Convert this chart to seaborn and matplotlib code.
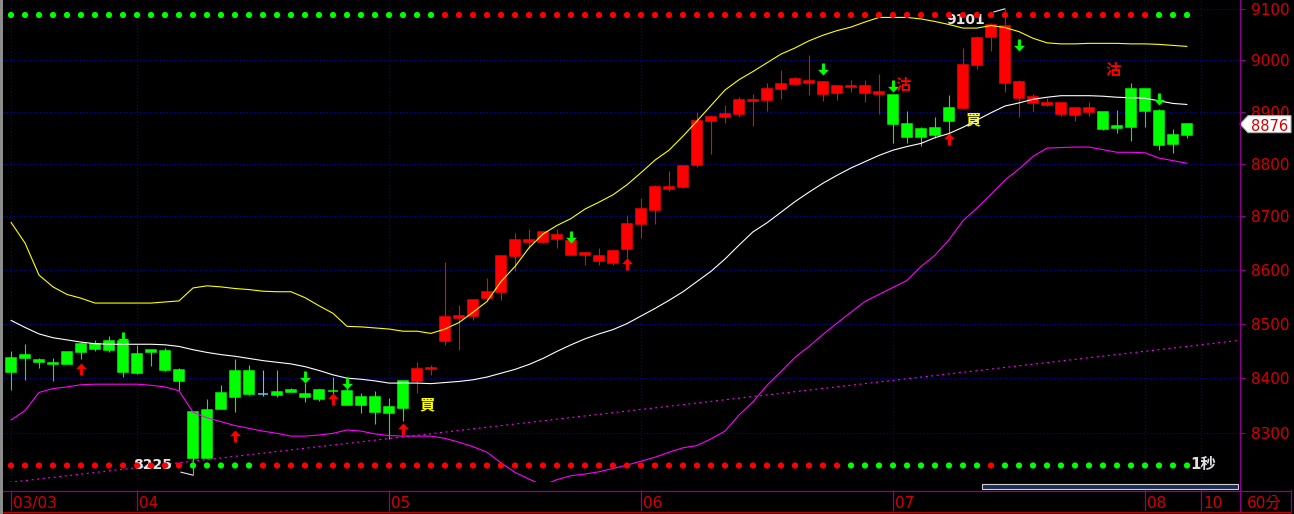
import numpy as np
import pandas as pd
import seaborn as sns
import matplotlib
matplotlib.use("Agg")
import matplotlib.pyplot as plt
from matplotlib.patches import Polygon, Rectangle
from matplotlib.lines import Line2D
from matplotlib.path import Path
from matplotlib.ticker import FixedLocator, NullLocator, FuncFormatter
from matplotlib import transforms

# 60 minute bars, TAIEX futures
open_ = [8437, 8443, 8434, 8428, 8448, 8463, 8463, 8468, 8468, 8444,
         8451, 8450, 8415, 8339, 8342, 8373, 8413, 8413, 8371, 8375,
         8378, 8371, 8379, 8377, 8377, 8366, 8366, 8348, 8395, 8395,
         8416, 8468, 8510, 8514, 8548, 8559, 8626, 8651, 8651, 8657,
         8628, 8627, 8617, 8612, 8638, 8685, 8713, 8752, 8756, 8797,
         8883, 8889, 8895, 8921, 8922, 8944, 8954, 8956, 8934, 8936,
         8948, 8936, 8934, 8932, 8876, 8867, 8869, 8907, 8908, 8991,
         9046, 8956, 8927, 8916, 8913, 8895, 8893, 8900, 8899, 8872,
         8944, 8944, 8902, 8855, 8855]
high = [8450, 8462, 8437, 8437, 8448, 8467, 8469, 8477, 8480, 8461,
        8451, 8456, 8418, 8339, 8362, 8387, 8435, 8424, 8414, 8414,
        8382, 8392, 8380, 8402, 8390, 8373, 8377, 8363, 8395, 8429,
        8424, 8615, 8534, 8544, 8585, 8626, 8669, 8676, 8670, 8677,
        8654, 8634, 8641, 8635, 8702, 8735, 8760, 8786, 8796, 8900,
        8891, 8913, 8928, 8934, 8955, 8981, 8968, 9010, 8960, 8952,
        8962, 8961, 8973, 8932, 8901, 8870, 8890, 8933, 9024, 9048,
        9073, 9101, 8962, 8934, 8927, 8917, 8907, 8919, 8899, 8903,
        8956, 8944, 8906, 8867, 8876]
low = [8378, 8397, 8419, 8394, 8425, 8435, 8450, 8447, 8403, 8408,
       8423, 8413, 8379, 8225, 8256, 8344, 8339, 8370, 8368, 8366,
       8374, 8357, 8359, 8368, 8351, 8337, 8317, 8290, 8322, 8373,
       8405, 8460, 8451, 8506, 8544, 8544, 8598, 8640, 8650, 8641,
       8627, 8609, 8608, 8608, 8602, 8660, 8686, 8749, 8754, 8794,
       8819, 8878, 8889, 8873, 8902, 8924, 8952, 8932, 8920, 8922,
       8939, 8919, 8895, 8840, 8840, 8834, 8850, 8858, 8905, 8983,
       9019, 8938, 8890, 8902, 8911, 8891, 8882, 8891, 8865, 8859,
       8844, 8871, 8826, 8821, 8849]
close = [8412, 8437, 8430, 8425, 8425, 8448, 8453, 8452, 8412, 8410,
         8447, 8415, 8394, 8256, 8256, 8344, 8366, 8372, 8371, 8370,
         8374, 8365, 8362, 8376, 8351, 8351, 8339, 8337, 8346, 8416,
         8418, 8512, 8514, 8544, 8559, 8626, 8655, 8655, 8670, 8665,
         8654, 8631, 8626, 8635, 8685, 8715, 8756, 8756, 8795, 8882,
         8890, 8895, 8922, 8922, 8944, 8954, 8963, 8960, 8958, 8949,
         8950, 8950, 8938, 8876, 8852, 8852, 8856, 8882, 8991, 9044,
         9069, 9067, 8958, 8928, 8916, 8917, 8907, 8907, 8867, 8868,
         8871, 8902, 8836, 8838, 8876]
# candle colour as painted by the software: r = long, g = short, c = flat
bar_state = list("gggggggggg" "gggggggg" "c" "gggggggggg"
                 "rrrrrrrrrr" "rrrrrrrrrr" "rrrrrrrrrr" "rrrr"
                 "ggggg" "rrrrrrrrrr" "ggggggg")

# bollinger bands
bb_upper = [8689, 8650, 8590, 8568, 8554, 8547, 8538, 8538, 8538, 8538,
            8538, 8540, 8542, 8566, 8570, 8568, 8565, 8563, 8560, 8559,
            8559, 8548, 8533, 8519, 8495, 8494, 8492, 8490, 8486, 8486,
            8482, 8490, 8502, 8521, 8541, 8578, 8606, 8641, 8667, 8683,
            8696, 8714, 8727, 8741, 8760, 8783, 8807, 8826, 8853, 8882,
            8912, 8942, 8962, 8978, 8995, 9012, 9024, 9038, 9049, 9058,
            9065, 9075, 9084, 9084, 9084, 9081, 9076, 9070, 9063, 9063,
            9068, 9064, 9056, 9043, 9034, 9032, 9032, 9033, 9033, 9033,
            9032, 9032, 9031, 9029, 9027]
bb_mid = [8506, 8493, 8481, 8474, 8470, 8466, 8463, 8462, 8462, 8462,
          8462, 8461, 8458, 8452, 8447, 8443, 8440, 8436, 8432, 8429,
          8426, 8421, 8414, 8406, 8400, 8398, 8395, 8391, 8391, 8391,
          8390, 8392, 8394, 8397, 8402, 8409, 8416, 8425, 8436, 8449,
          8461, 8472, 8481, 8489, 8500, 8514, 8528, 8543, 8559, 8578,
          8597, 8620, 8646, 8671, 8688, 8708, 8728, 8746, 8763, 8778,
          8792, 8804, 8816, 8826, 8833, 8839, 8850, 8858, 8870, 8884,
          8898, 8911, 8917, 8924, 8928, 8931, 8931, 8931, 8930, 8928,
          8927, 8926, 8921, 8916, 8914]
bb_lower = [8324, 8341, 8374, 8381, 8384, 8388, 8389, 8389, 8389, 8389,
            8387, 8384, 8377, 8338, 8328, 8321, 8314, 8309, 8304, 8300,
            8295, 8295, 8297, 8300, 8306, 8304, 8299, 8296, 8295, 8295,
            8295, 8291, 8284, 8276, 8266, 8247, 8230, 8218, 8207, 8217,
            8224, 8227, 8231, 8237, 8243, 8250, 8257, 8266, 8274, 8278,
            8290, 8304, 8333, 8357, 8387, 8412, 8438, 8458, 8480, 8501,
            8521, 8541, 8554, 8567, 8580, 8606, 8627, 8656, 8692, 8716,
            8742, 8769, 8790, 8814, 8830, 8831, 8832, 8832, 8827, 8822,
            8822, 8821, 8811, 8806, 8801]

# trend line (bar index, price) end points
trend_idx = [-0.5, 87.7]
trend_px = [8211, 8469]

# signal rows (top / bottom dots)
top_dots = list("gggggggggg" "gggggggggg" "gggggggggg" "g"
                "rrrrrrrrrr" "rrrrrrrrrr" "rrrrrrrrrr" "rrrrrrrrrr" "rrrrrrrrrr" "r"
                "ggg")
bot_dots = list("rrrrrrrrrr" "rrr" "ggggg"
                "rrrrrrrrrr" "rrrrrrrrrr" "rrrrrrrrrr" "rrrrrrrrrr" "rr"
                "gggggggggg" "r" "gggggggggg" "gggg")

# arrows and buy/sell marks
up_arrow_idx = [5, 16, 23, 28, 44, 67]
up_arrow_px = [8417, 8296, 8362, 8308, 8610, 8848]
dn_arrow_idx = [8, 21, 24, 40, 58, 63, 72, 82]
dn_arrow_px = [8473, 8402, 8391, 8662, 8982, 8950, 9029, 8925]
buy_idx = [29, 68]
buy_px = [8352, 8885]
sell_idx = [63, 78]
sell_px = [8951, 8979]

date_pos = [0, 9, 27, 45, 63, 81, 85]
date_lab = ["03/03", "04", "05", "06", "07", "08", "10"]
price_ticks = [8300, 8400, 8500, 8600, 8700, 8800, 8900, 9000, 9100]

RED = "#FF0000"
GREEN = "#00FF00"
CYAN = "#55CCEE"
PURPLE = "#900090"
AXRED = "#D40000"
GRID = "#0000C8"

sns.set_theme(style="dark", rc={"axes.facecolor": "black", "figure.facecolor": "black"})
plt.rcParams['font.family'] = ['DejaVu Sans', 'Noto Sans CJK TC']

W, H = 1294, 514
fig = plt.figure(figsize=(W / 100, H / 100), dpi=100)


def fx(x):
    return x / W


def fy(y):
    return 1 - y / H


ax = fig.add_axes([fx(3), fy(482), fx(1239) - fx(3), 482 / H])
ax.set_facecolor("black")

idx = np.arange(len(close))
df = pd.DataFrame({"i": idx, "open": open_, "high": high, "low": low, "close": close,
                   "state": bar_state, "up": bb_upper, "mid": bb_mid, "dn": bb_lower})
cmap = {"r": RED, "g": GREEN, "c": CYAN}
cols = df["state"].map(cmap).tolist()

# candles
ax.vlines(df["i"], df["low"], df["high"], colors=cols, lw=0.8, zorder=2)
top = np.maximum(df["open"], df["close"])
bot = np.minimum(df["open"], df["close"])
ax.bar(df["i"], top - bot, bottom=bot, width=0.75, color=cols, edgecolor=cols,
       linewidth=1.1, zorder=3)

# bands
sns.lineplot(data=df, x="i", y="up", color="#FFFF00", lw=0.8, ax=ax, zorder=4)
sns.lineplot(data=df, x="i", y="mid", color="#FFFFFF", lw=0.8, ax=ax, zorder=4)
sns.lineplot(data=df, x="i", y="dn", color="#FF00FF", lw=0.8, ax=ax, zorder=4)
ax.plot(trend_idx, trend_px, color="#FF00FF", lw=0.8, linestyle=(0, (1.8, 3.2)), zorder=4)

# arrows
up_path = Path([(-0.24, -1), (0.24, -1), (0.24, 0.05), (0.9, 0.05), (0, 1),
                (-0.9, 0.05), (-0.24, 0.05), (-0.24, -1)], closed=True)
dn_path = Path([(x, -y) for x, y in up_path.vertices], closed=True)
ax.scatter(up_arrow_idx, up_arrow_px, marker=up_path, s=75, color=RED, linewidths=0, zorder=5)
ax.scatter(dn_arrow_idx, dn_arrow_px, marker=dn_path, s=75, color=GREEN, linewidths=0, zorder=5)

for i, p in zip(buy_idx, buy_px):
    ax.text(i + 0.2, p, "買", color="#FFFF00", fontsize=11, fontweight="bold",
            ha="left", va="center", zorder=5)
for i, p in zip(sell_idx, sell_px):
    ax.text(i + 0.2, p, "沽", color=RED, fontsize=11, fontweight="bold",
            ha="left", va="center", zorder=5)

# high / low marks
i_hi = int(np.argmax(high))
i_lo = int(np.argmin(low))
ax.annotate(f"{high[i_hi]}", xy=(i_hi, high[i_hi]), xytext=(-20, -11), textcoords="offset pixels",
            ha="right", va="center", color="#E6E6E6", fontsize=10, fontweight="bold", zorder=5,
            arrowprops=dict(arrowstyle="-", color="#E6E6E6", lw=0.8, shrinkA=4, shrinkB=0))
ax.annotate(f"{low[i_lo]}", xy=(i_lo, low[i_lo]), xytext=(-21, 10), textcoords="offset pixels",
            ha="right", va="center", color="#E6E6E6", fontsize=10, fontweight="bold", zorder=5,
            arrowprops=dict(arrowstyle="-", color="#E6E6E6", lw=0.8, shrinkA=4, shrinkB=0))

# signal dots
blend = transforms.blended_transform_factory(ax.transData, ax.transAxes)
ax.scatter(idx, np.full(len(idx), 1 - 15 / 482), transform=blend, s=20, linewidths=0,
           c=[cmap[c] for c in top_dots], zorder=6, clip_on=False)
ax.scatter(idx, np.full(len(idx), 1 - 465.5 / 482), transform=blend, s=20, linewidths=0,
           c=[cmap[c] for c in bot_dots], zorder=6, clip_on=False)

# axes
ax.set_yscale("log")
ax.set_xlim(-8 / 14, (1239 - 11) / 14)
ax.set_ylim(8212.8, 9118.4)
ax.yaxis.set_major_locator(FixedLocator(price_ticks))
ax.yaxis.set_minor_locator(NullLocator())
ax.yaxis.set_major_formatter(FuncFormatter(lambda v, _: f"{v:.0f}"))
ax.yaxis.tick_right()
ax.tick_params(axis="y", which="major", direction="out", length=4.3, width=0.8,
               color=PURPLE, labelcolor=AXRED, labelsize=11, pad=4.3,
               right=True, left=False, labelright=True, labelleft=False)
ax.set_xticks(date_pos)
ax.tick_params(axis="x", length=0, labelbottom=False)
ax.grid(True, which="major", color=GRID, linestyle=(0, (1, 2)), linewidth=0.8)
ax.set_xlabel("")
ax.set_ylabel("")
for s in ax.spines.values():
    s.set_visible(False)

# time axis strip
ax_t = fig.add_axes([fx(3), fy(511), fx(1239) - fx(3), 21 / H])
ax_t.set_facecolor("black")
ax_t.set_xlim(ax.get_xlim())
ax_t.set_ylim(0, 1)
ax_t.axis("off")
ax_t.vlines(date_pos, 0, 1, colors=PURPLE, lw=0.9)
for p, lab in zip(date_pos, date_lab):
    ax_t.text(p + 0.15, 0.36, lab, color=AXRED, fontsize=11, ha="left", va="center")

# frame lines
fig.add_artist(Rectangle((0, 0), fx(3), 1, transform=fig.transFigure, color="#8C8C8C", lw=0))
fig.add_artist(Line2D([fx(1239.5)] * 2, [fy(0), fy(511)], color=PURPLE, lw=0.9))
fig.add_artist(Line2D([fx(3), fx(1291)], [fy(490.5)] * 2, color=PURPLE, lw=0.9))
fig.add_artist(Line2D([fx(1290.5)] * 2, [fy(490), fy(511)], color=PURPLE, lw=0.9))
fig.add_artist(Line2D([fx(3), fx(1291)], [fy(511.5)] * 2, color="#C00000", lw=0.9))
fig.add_artist(Rectangle((fx(982), fy(489)), fx(1238) - fx(982), 5 / H, transform=fig.transFigure,
                         fc="#1C2C50", ec="#D0D0D0", lw=0.8))
fig.text(fx(1247), fy(503.5), "60分", color=AXRED, fontsize=11, ha="left", va="center")
fig.text(fx(1190), fy(465), "1秒", color="#E0E0E0", fontsize=11, fontweight="bold",
         ha="left", va="center")

# last price tag (sits over the 8900 label, as in the terminal)
yd = ax.transData.transform((0, close[-1]))[1]
yt = H - yd
tag = [(fx(1240), fy(yt)), (fx(1248), fy(yt - 8.5)), (fx(1291), fy(yt - 8.5)),
       (fx(1291), fy(yt + 8.5)), (fx(1248), fy(yt + 8.5))]
fig.add_artist(Polygon(tag, closed=True, transform=fig.transFigure, fc="white", ec="#B0B0B0", lw=0.8))
fig.text(fx(1270), fy(yt + 0.5), f"{close[-1]}", color=AXRED, fontsize=10.5, ha="center",
         va="center_baseline")

fig.savefig("out.png", dpi=100, facecolor="black")
